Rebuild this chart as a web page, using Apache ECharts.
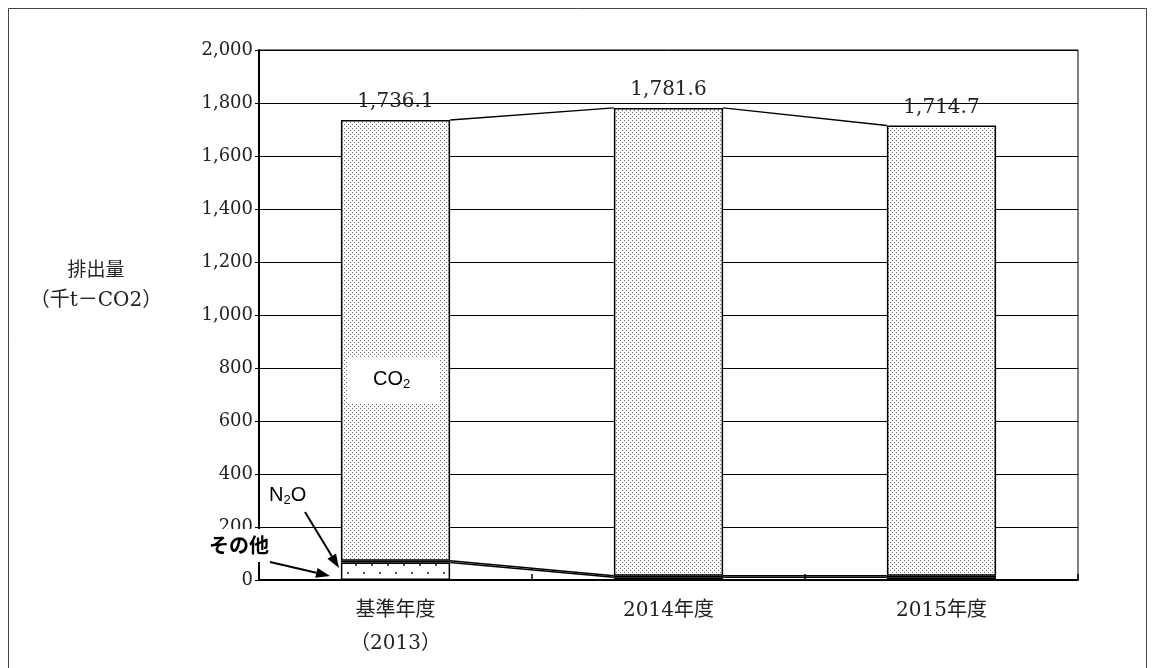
<!DOCTYPE html>
<html>
<head>
<meta charset="utf-8">
<script src="https://cdn.jsdelivr.net/npm/echarts@6/dist/echarts.min.js"></script>
<style>
html,body{margin:0;padding:0;background:#fff;}
#chart{width:1155px;height:668px;}
</style>
</head>
<body>
<div id="chart"></div>
<script>
// ---- data ----
const categories = ['基準年度\n（2013）', '2014年度', '2015年度'];
const otherValues = [66, 10, 10];          // その他
const n2oValues = [7, 6, 6];               // N2O
const co2Values = [1663.1, 1765.6, 1698.7]; // CO2
const totals = [1736.1, 1781.6, 1714.7];
const yMin = 0, yMax = 2000, yInterval = 200;

// ---- patterns ----
function makePattern(w, h, dots, color, r) {
  const c = document.createElement('canvas');
  c.width = w; c.height = h;
  const ctx = c.getContext('2d');
  ctx.fillStyle = '#fff';
  ctx.fillRect(0, 0, w, h);
  ctx.fillStyle = color;
  dots.forEach(d => { ctx.fillRect(d[0], d[1], r, r); });
  return { image: c, repeat: 'repeat' };
}
const co2Pattern = makePattern(4, 4, [[0, 0], [2, 2]], '#6a6a6a', 1);
const otherPattern = makePattern(16, 16, [[3, 4], [11, 12]], '#555', 2);

const serif = "'DejaVu Serif', 'Noto Sans CJK JP', serif";
const sans = "'Liberation Sans', 'Noto Sans CJK JP', sans-serif";

const levels = [
  otherValues.slice(),
  otherValues.map((v, i) => v + n2oValues[i]),
  totals.slice()
];

function arrow(x1, y1, x2, y2) {
  const L = 14, W = 5;
  const dx = x2 - x1, dy = y2 - y1, len = Math.hypot(dx, dy);
  const ux = dx / len, uy = dy / len;
  const bx = x2 - ux * L, by = y2 - uy * L;
  return [
    { type: 'line', z: 100, shape: { x1: x1, y1: y1, x2: bx, y2: by }, style: { stroke: '#000', lineWidth: 2 } },
    { type: 'polygon', z: 100, shape: { points: [[x2, y2], [bx - uy * W, by + ux * W], [bx + uy * W, by - ux * W]] }, style: { fill: '#000' } }
  ];
}

const chart = echarts.init(document.getElementById('chart'));
const option = {
  animation: false,
  backgroundColor: '#fff',
  grid: { left: 259, top: 50, right: 77, bottom: 88, show: true, borderColor: '#000', borderWidth: 1, backgroundColor: 'transparent' },
  xAxis: {
    type: 'category',
    data: categories,
    axisLine: { lineStyle: { color: '#000', width: 2 } },
    axisTick: { show: true, inside: true, length: 6, lineStyle: { color: '#000', width: 1.5 } },
    axisLabel: { color: '#222', fontFamily: serif, fontSize: 20, margin: 14, lineHeight: 33 }
  },
  yAxis: {
    type: 'value',
    min: yMin, max: yMax, interval: yInterval,
    axisLine: { show: true, lineStyle: { color: '#000', width: 2 } },
    axisTick: { show: true, inside: false, length: 4, lineStyle: { color: '#000' } },
    splitLine: { lineStyle: { color: '#000', width: 1 } },
    axisLabel: { color: '#222', fontFamily: serif, fontSize: 18, margin: 6,
      formatter: v => v.toLocaleString('en-US') }
  },
  series: [
    { name: 'その他', type: 'bar', stack: 's', barWidth: '40%', data: otherValues,
      itemStyle: { color: otherPattern, borderColor: '#000', borderWidth: 1.5 } },
    { name: 'N2O', type: 'bar', stack: 's', data: n2oValues,
      itemStyle: { color: '#fff', borderColor: '#000', borderWidth: 1.5 } },
    { name: 'CO2', type: 'bar', stack: 's', data: co2Values,
      itemStyle: { color: co2Pattern, borderColor: '#000', borderWidth: 1.5 },
      label: { show: true, position: 'top', distance: 8, color: '#222', fontFamily: serif, fontSize: 20,
        formatter: p => totals[p.dataIndex].toLocaleString('en-US', { minimumFractionDigits: 1 }) } },
    { name: 'series-lines', type: 'custom', silent: true, z: 5,
      data: [[0, 0], [1, 0]],
      encode: { x: 0, y: 1 },
      renderItem: function (params, api) {
        const i = api.value(0);
        const half = api.size([1, 0])[0] * 0.2;
        const children = levels.map(lv => {
          const p1 = api.coord([i, lv[i]]);
          const p2 = api.coord([i + 1, lv[i + 1]]);
          return { type: 'line', shape: { x1: p1[0] + half, y1: p1[1], x2: p2[0] - half, y2: p2[1] },
            style: { stroke: '#000', lineWidth: 1.5 } };
        });
        return { type: 'group', children: children };
      }
    }
  ],
  graphic: [
    { type: 'rect', z: 0, silent: true, shape: { x: 8.5, y: 8.5, width: 1138, height: 700 }, style: { fill: 'none', stroke: '#444', lineWidth: 1 } },
    { type: 'text', z: 100, x: 96, y: 259, style: { text: '排出量', align: 'center', fill: '#222', font: "19px 'Noto Sans CJK JP'" } },
    { type: 'text', z: 100, x: 96, y: 291, style: { text: '（千t－CO2）', align: 'center', fill: '#222', font: "20px " + serif } },
    { type: 'rect', z: 100, shape: { x: 348, y: 358, width: 92, height: 45 }, style: { fill: '#fff' } },
    { type: 'text', z: 101, left: 373, top: 369, style: {
        rich: { a: { fontSize: 20, fontFamily: sans, fill: '#000' }, s: { fontSize: 13, fontFamily: sans, fill: '#000', padding: [11, 0, 0, 0] } },
        text: '{a|CO}{s|2}' } },
    { type: 'text', z: 101, left: 269, top: 485, style: {
        rich: { a: { fontSize: 20, fontFamily: sans, fill: '#000' }, s: { fontSize: 13, fontFamily: sans, fill: '#000', padding: [11, 0, 0, 0] } },
        text: '{a|N}{s|2}{a|O}' } },
    { type: 'rect', z: 100, shape: { x: 203, y: 529, width: 78, height: 33 }, style: { fill: '#fff' } },
    { type: 'text', z: 101, left: 209, top: 535, style: { text: 'その他', fill: '#000', font: "bold 20px 'Noto Sans CJK JP'" } }
  ].concat(arrow(305, 512, 339, 568)).concat(arrow(270, 562, 330, 576))
};
chart.setOption(option);
</script>
</body>
</html>
